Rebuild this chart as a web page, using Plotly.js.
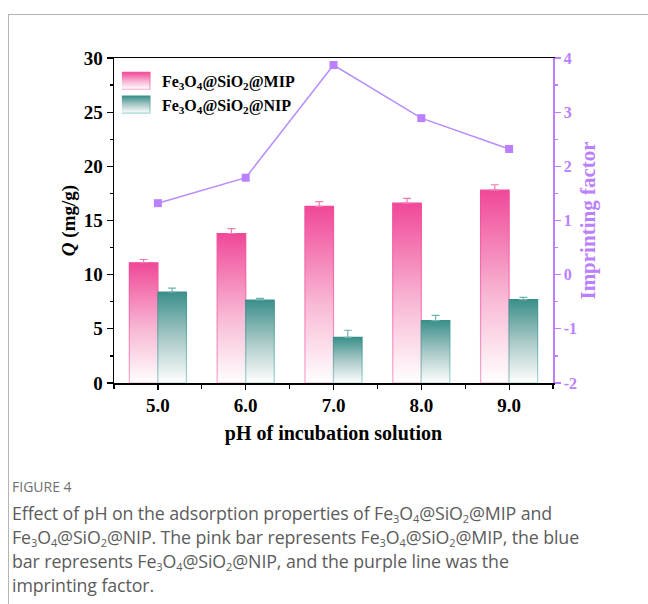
<!DOCTYPE html>
<html>
<head>
<meta charset="utf-8">
<script src="https://cdn.plot.ly/plotly-3.0.1.min.js"></script>
<style>
  html, body { margin: 0; padding: 0; background: #fff; }
  #wrap { position: relative; width: 648px; height: 604px; overflow: hidden; }
  #card { position: absolute; left: 8px; top: 14px; width: 700px; height: 700px;
          border-left: 1px solid #b4b4b4; border-top: 1px solid #b4b4b4; }
  #chart { position: absolute; left: 0; top: 0; width: 648px; height: 604px; }
  #caption { position: absolute; left: 12px; top: 476px; width: 636px;
             font-family: "Open Sans", sans-serif; color: #5c5c5c; }
  #caption .fig { font-size: 14px; color: #707070; line-height: 22px; margin-bottom: 3px; }
  #caption .txt { font-size: 17.8px; line-height: 24px; letter-spacing: -0.1px; white-space: nowrap; }
  #caption sub { font-size: 0.62em; vertical-align: -0.25em; line-height: 0; }
</style>
</head>
<body>
<div id="wrap">
  <div id="card"></div>
  <div id="chart"></div>
  <div id="caption">
    <div class="fig">FIGURE 4</div>
    <div class="txt">Effect of pH on the adsorption properties of Fe<sub>3</sub>O<sub>4</sub>@SiO<sub>2</sub>@MIP and<br>Fe<sub>3</sub>O<sub>4</sub>@SiO<sub>2</sub>@NIP. The pink bar represents Fe<sub>3</sub>O<sub>4</sub>@SiO<sub>2</sub>@MIP, the blue<br>bar represents Fe<sub>3</sub>O<sub>4</sub>@SiO<sub>2</sub>@NIP, and the purple line was the<br>imprinting factor.</div>
  </div>
</div>
<script>
// ---- data ----
const pH = [5, 6, 7, 8, 9];
const pHLabels = ["5.0", "6.0", "7.0", "8.0", "9.0"];
const mipQ = [11.1, 13.8, 16.3, 16.6, 17.8];
const mipErr = [0.3, 0.45, 0.45, 0.45, 0.5];
const nipQ = [8.4, 7.66, 4.22, 5.75, 7.69];
const nipErr = [0.35, 0.15, 0.65, 0.5, 0.22];
const imprintFactor = [1.32, 1.79, 3.87, 2.89, 2.32];
const zeros = [0, 0, 0, 0, 0];
const ifTicks = [-2, -1, 0, 1, 2, 3, 4];
const ifTickLabels = ["-2", "-1", "0", "1", "2", "3", "4"];

const serif = "Liberation Serif, Times New Roman, serif";
const purple = "#bb80ff";
const pink = "#f04898";
const teal = "#3a8f8a";

const traces = [
  {
    type: "bar", x: pH, y: mipQ, name: "<b>Fe<sub>3</sub>O<sub>4</sub>@SiO<sub>2</sub>@MIP</b>",
    marker: { color: pink, line: { color: pink, width: 1.2 } },
    error_y: { type: "data", symmetric: false, array: mipErr, arrayminus: zeros,
               color: "#f27ab4", thickness: 1.2, width: 4 },
    hoverinfo: "skip"
  },
  {
    type: "bar", x: pH, y: nipQ, name: "<b>Fe<sub>3</sub>O<sub>4</sub>@SiO<sub>2</sub>@NIP</b>",
    marker: { color: teal, line: { color: teal, width: 1.2 } },
    error_y: { type: "data", symmetric: false, array: nipErr, arrayminus: zeros,
               color: "#6fb3ae", thickness: 1.2, width: 4 },
    hoverinfo: "skip"
  },
  {
    type: "scatter", mode: "lines+markers", x: pH, y: imprintFactor, yaxis: "y2",
    showlegend: false, line: { color: "#b78cff", width: 1.5 },
    marker: { symbol: "square", size: 8, color: purple, line: { width: 0 } },
    hoverinfo: "skip"
  }
];

const layout = {
  width: 648, height: 604,
  margin: { l: 114, r: 95, t: 58, b: 221 },
  paper_bgcolor: "rgba(0,0,0,0)", plot_bgcolor: "rgba(0,0,0,0)",
  barmode: "group", bargap: 0.35, bargroupgap: 0,
  font: { family: serif, color: "#000" },
  showlegend: true,
  legend: { x: 0.018, y: 0.982, xanchor: "left", yanchor: "top", bgcolor: "rgba(0,0,0,0)",
            font: { family: serif, size: 16, color: "#000" }, tracegroupgap: 0,
            itemwidth: 30 },
  xaxis: {
    range: [4.5, 9.5], tickvals: pH, ticktext: pHLabels,
    showline: true, linecolor: "#000", linewidth: 1.5, mirror: true,
    ticks: "outside", ticklen: 5, tickwidth: 1.2, tickcolor: "#000",
    minor: { dtick: 0.5, tick0: 4.5, ticks: "outside", ticklen: 4, tickwidth: 1.2, tickcolor: "#000", showgrid: false },
    showgrid: false, zeroline: false,
    tickfont: { family: serif, size: 19, color: "#000", weight: "bold" },
    title: { text: "<b>pH of incubation solution</b>", font: { family: serif, size: 20, color: "#000" }, standoff: 10 }
  },
  yaxis: {
    range: [0, 30], dtick: 5, showline: true, linecolor: "#000", linewidth: 1.5, mirror: false,
    ticks: "outside", ticklen: 6, tickwidth: 1.2, tickcolor: "#000",
    minor: { dtick: 2.5, ticks: "outside", ticklen: 3, tickwidth: 1.2, tickcolor: "#000", showgrid: false },
    showgrid: false, zeroline: false,
    tickfont: { family: serif, size: 19, color: "#000", weight: "bold" },
    title: { text: "<b><i>Q</i> (mg/g)</b>", font: { family: serif, size: 19, color: "#000" }, standoff: 3 }
  },
  yaxis2: {
    overlaying: "y", side: "right", range: [-2, 4], tickvals: ifTicks, ticktext: ifTickLabels,
    showline: true, linecolor: purple, linewidth: 1.5,
    ticks: "outside", ticklen: 6, tickwidth: 1.2, tickcolor: purple,
    minor: { dtick: 0.5, ticks: "outside", ticklen: 3, tickwidth: 1.2, tickcolor: purple, showgrid: false },
    showgrid: false, zeroline: false,
    tickfont: { family: serif, size: 16, color: purple, weight: "bold" },
    title: { text: "<b>Imprinting factor</b>", font: { family: serif, size: 21, color: purple }, standoff: 4 }
  }
};

function addGradient(defs, id, stops) {
  const ns = "http://www.w3.org/2000/svg";
  const g = document.createElementNS(ns, "linearGradient");
  g.setAttribute("id", id);
  g.setAttribute("x1", "0"); g.setAttribute("y1", "0");
  g.setAttribute("x2", "0"); g.setAttribute("y2", "1");
  stops.forEach(([off, col]) => {
    const s = document.createElementNS(ns, "stop");
    s.setAttribute("offset", off);
    s.setAttribute("stop-color", col);
    g.appendChild(s);
  });
  defs.appendChild(g);
}

Plotly.newPlot("chart", traces, layout, { staticPlot: true }).then(gd => {
  const svg = gd.querySelector(".main-svg");
  let defs = svg.querySelector("defs");
  if (!defs) { defs = document.createElementNS("http://www.w3.org/2000/svg", "defs"); svg.prepend(defs); }
  addGradient(defs, "gMIP", [["0", "#f04898"], ["0.55", "#f8b8d4"], ["1", "#ffffff"]]);
  addGradient(defs, "gMIPline", [["0", "#f04898"], ["1", "#f9a8cc"]]);
  addGradient(defs, "gNIP", [["0", "#3a8f8a"], ["0.5", "#a9c9c7"], ["1", "#ffffff"]]);
  addGradient(defs, "gNIPline", [["0", "#3a8f8a"], ["1", "#a6d6d2"]]);
  const fills = [["url(#gMIP)", "url(#gMIPline)"], ["url(#gNIP)", "url(#gNIPline)"]];
  gd.querySelectorAll(".barlayer .trace").forEach((t, i) => {
    t.querySelectorAll(".point path").forEach(p => {
      p.style.fill = fills[i][0];
      p.style.stroke = fills[i][1];
    });
  });
  gd.querySelectorAll(".legend .traces").forEach((t, i) => {
    t.querySelectorAll(".legendpoints path").forEach(p => {
      p.setAttribute("d", "M-28,8.5H8V-8.5H-28Z");
      p.style.fill = fills[i][0];
      p.style.stroke = fills[i][1];
      p.style.strokeWidth = "1.2px";
    });
  });
});
</script>
</body>
</html>
